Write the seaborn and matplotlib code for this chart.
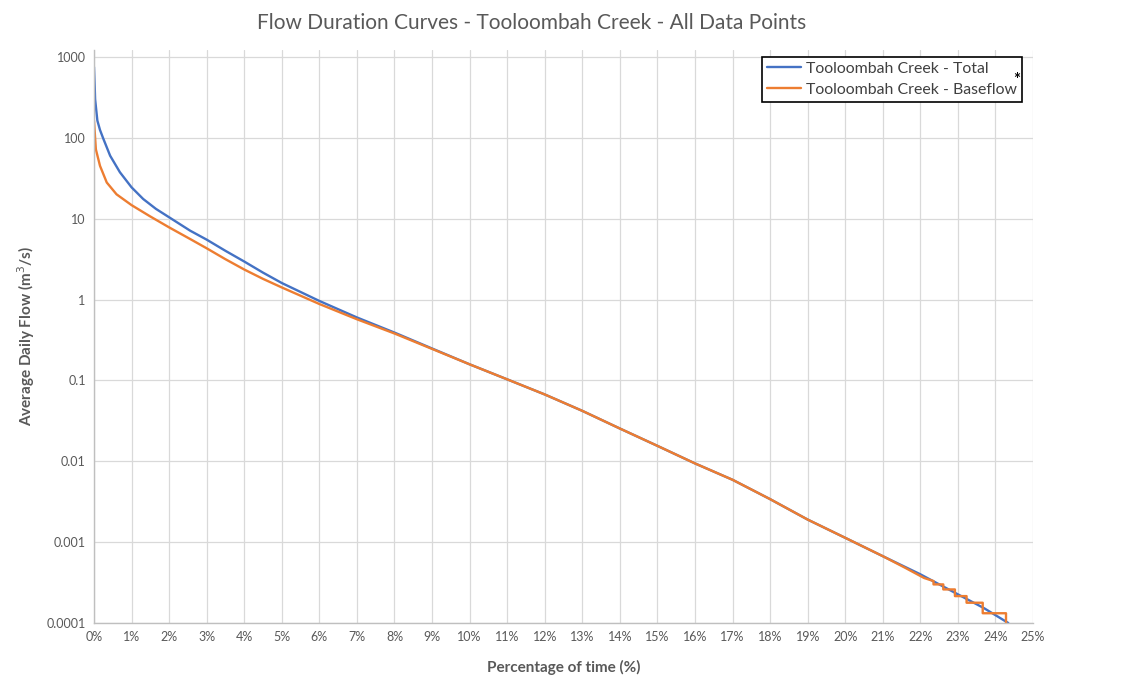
import matplotlib
matplotlib.use("Agg")
import matplotlib.pyplot as plt
from matplotlib.ticker import FixedLocator, PercentFormatter, NullLocator
import pandas as pd
import seaborn as sns

# Flow duration data (x = % of time, y = m3/s)
total_pct = [0.0, 0.02, 0.03, 0.09, 0.16, 0.25, 0.43, 0.69, 1.0, 1.31, 1.65, 2.0, 2.56, 3.0, 3.5, 4.0,
             4.5, 5.0, 6.0, 7.0, 8.0, 9.0, 10.0, 11.0, 12.0, 13.0, 14.0, 15.0, 16.0,
             17.0, 18.0, 19.0, 20.0, 21.0, 22.0, 23.0, 23.7, 24.34]
total_flow = [750, 420, 300, 163, 125, 97, 60, 37.5, 24.4, 17.5, 13.2, 10.4, 7.1, 5.5, 4.0, 2.95,
              2.15, 1.6, 0.96, 0.60, 0.39, 0.248, 0.158, 0.103, 0.067, 0.042, 0.0254, 0.0155, 0.0094,
              0.0059, 0.0034, 0.0019, 0.00113, 0.00067, 0.0004, 0.000226, 0.000152, 0.0001]

base_pct = [0.0, 0.05, 0.16, 0.34, 0.6, 1.0, 1.49, 2.0, 2.56, 3.0, 3.5, 4.0, 4.5,
            5.0, 6.0, 7.0, 8.0, 9.0, 10.0, 11.0, 12.0, 13.0, 14.0, 15.0, 16.0,
            17.0, 18.0, 19.0, 20.0, 21.0, 21.6, 22.1, 22.35, 22.35, 22.61, 22.61,
            22.92, 22.92, 23.23, 23.23, 23.66, 23.66, 24.28, 24.28]
base_flow = [163, 72, 45, 28, 20, 14.7, 10.7, 7.8, 5.6, 4.3, 3.15, 2.35, 1.8,
             1.41, 0.88, 0.57, 0.38, 0.245, 0.158, 0.103, 0.067, 0.042, 0.0254, 0.0155, 0.0094,
             0.0059, 0.0034, 0.0019, 0.00113, 0.00067, 0.00048, 0.00036, 0.00033, 0.00030, 0.00030, 0.00026,
             0.00026, 0.000215, 0.000215, 0.000178, 0.000178, 0.000132, 0.000132, 0.00008]

series_names = ["Tooloombah Creek - Total", "Tooloombah Creek - Baseflow"]
series_colors = ["#4472C4", "#ED7D31"]

y_ticks = [1000, 100, 10, 1, 0.1, 0.01, 0.001, 0.0001]
y_tick_labels = ["1000", "100", "10", "1", "0.1", "0.01", "0.001", "0.0001"]
x_ticks = list(range(0, 26))

df = pd.concat([
    pd.DataFrame({"pct": total_pct, "flow": total_flow, "series": series_names[0]}),
    pd.DataFrame({"pct": base_pct, "flow": base_flow, "series": series_names[1]}),
], ignore_index=True)

sns.set_style("whitegrid")
plt.rcParams["font.family"] = ["Lato", "DejaVu Sans"]

fig = plt.figure(figsize=(11.31, 6.84), dpi=100)
ax = fig.add_axes([0.0831, 0.0892, 0.9134 - 0.0831, 0.927 - 0.0892])

sns.lineplot(data=df, x="pct", y="flow", hue="series", hue_order=series_names,
             palette=series_colors, estimator=None, sort=False, linewidth=1.7, ax=ax)

ax.set_yscale("log")
ax.set_ylim(0.0001, 1220)
ax.set_xlim(0, 25)
ax.yaxis.set_major_locator(FixedLocator(y_ticks))
ax.yaxis.set_minor_locator(NullLocator())
ax.set_yticks(y_ticks)
ax.set_yticklabels(y_tick_labels)
ax.xaxis.set_major_locator(FixedLocator(x_ticks))
ax.xaxis.set_major_formatter(PercentFormatter(decimals=0))

ax.grid(True, color="#D9D9D9", linewidth=0.9)
for s in ["top", "right"]:
    ax.spines[s].set_visible(False)
for s in ["left", "bottom"]:
    ax.spines[s].set_color("#BFBFBF")
    ax.spines[s].set_linewidth(1.0)
ax.tick_params(axis="both", length=0, labelsize=9, colors="#595959", pad=6)

ax.set_xlabel("Percentage of time (%)", fontsize=11, fontweight="bold", color="#595959", labelpad=12)
ax.set_ylabel("Average Daily Flow (m$^3$/s)", fontsize=11, fontweight="bold", color="#595959", labelpad=7)

fig.text(0.47, 0.966, "Flow Duration Curves - Tooloombah Creek - All Data Points",
         ha="center", va="center", fontsize=15, color="#595959")

leg = ax.legend(loc="upper right", bbox_to_anchor=(0.9036, 0.9167), bbox_transform=fig.transFigure,
                borderaxespad=0, fontsize=11.4, frameon=True, fancybox=False, framealpha=1,
                handlelength=2.2, handletextpad=0.3, labelspacing=0.45, borderpad=0.3)
leg.get_frame().set_edgecolor("black")
leg.get_frame().set_linewidth(1.2)
for t in leg.get_texts():
    t.set_color("#404040")

fig.text(1017 / 1131, 1 - 80 / 684, "*", ha="center", va="center", fontsize=12,
         fontweight="bold", color="black")

fig.savefig("out.png", dpi=100, facecolor="white")
